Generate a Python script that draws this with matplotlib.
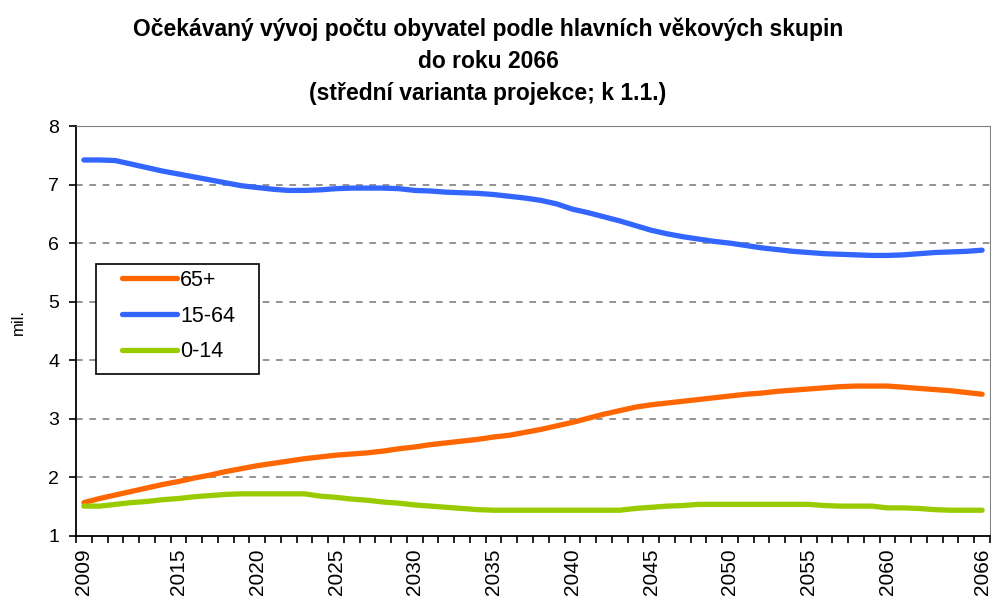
import matplotlib
matplotlib.use("Agg")
import matplotlib.pyplot as plt
from matplotlib.patches import Rectangle
import numpy as np

years = list(range(2009, 2067))
tick_years = [2009, 2015, 2020, 2025, 2030, 2035, 2040, 2045, 2050, 2055, 2060, 2066]

age_65plus = [1.57, 1.64, 1.70, 1.76, 1.82, 1.88, 1.93, 1.99, 2.04, 2.10,
              2.15, 2.20, 2.24, 2.28, 2.32, 2.35, 2.38, 2.40, 2.42, 2.45,
              2.49, 2.52, 2.56, 2.59, 2.62, 2.65, 2.69, 2.72, 2.77, 2.82,
              2.88, 2.94, 3.01, 3.08, 3.14, 3.20, 3.24, 3.27, 3.30, 3.33,
              3.36, 3.39, 3.42, 3.44, 3.47, 3.49, 3.51, 3.53, 3.55, 3.56,
              3.56, 3.56, 3.54, 3.52, 3.50, 3.48, 3.45, 3.42]
age_15_64 = [7.42, 7.42, 7.41, 7.35, 7.29, 7.23, 7.18, 7.13, 7.08, 7.03,
             6.98, 6.95, 6.92, 6.90, 6.90, 6.91, 6.93, 6.94, 6.94, 6.94,
             6.93, 6.90, 6.89, 6.87, 6.86, 6.85, 6.83, 6.80, 6.77, 6.73,
             6.67, 6.58, 6.52, 6.45, 6.38, 6.30, 6.22, 6.16, 6.11, 6.07,
             6.03, 6.00, 5.96, 5.92, 5.89, 5.86, 5.84, 5.82, 5.81, 5.80,
             5.79, 5.79, 5.80, 5.82, 5.84, 5.85, 5.86, 5.88]
age_0_14 = [1.51, 1.51, 1.54, 1.57, 1.59, 1.62, 1.64, 1.67, 1.69, 1.71,
            1.72, 1.72, 1.72, 1.72, 1.72, 1.68, 1.66, 1.63, 1.61, 1.58,
            1.56, 1.53, 1.51, 1.49, 1.47, 1.45, 1.44, 1.44, 1.44, 1.44,
            1.44, 1.44, 1.44, 1.44, 1.44, 1.47, 1.49, 1.51, 1.52, 1.54,
            1.54, 1.54, 1.54, 1.54, 1.54, 1.54, 1.54, 1.52, 1.51, 1.51,
            1.51, 1.48, 1.48, 1.47, 1.45, 1.44, 1.44, 1.44]

labels = ["65+", "15-64", "0-14"]
colors = ["#FF6600", "#3366FF", "#99CC00"]

plt.rcParams['font.family'] = ['Liberation Sans', 'DejaVu Sans']

W, H = 991, 596
fig = plt.figure(figsize=(W/100, H/100), dpi=100)
ax = fig.add_axes([76/W, 1-536/H, (990-76)/W, (536-126)/H])

ax.set_xlim(2008.5, 2066.5)
ax.set_ylim(1, 8)

for vals, lab, col in zip([age_65plus, age_15_64, age_0_14], labels, colors):
    ax.plot(years, vals, color=col, lw=3.8, label=lab, solid_capstyle='round', zorder=3)

ax.set_yticks(range(1, 9))
ax.set_yticklabels([str(v) for v in range(1, 9)], fontsize=14)
ax.set_xticks(tick_years)
ax.set_xticklabels([str(y) for y in tick_years], rotation=90, fontsize=15, va='top')
ax.tick_params(axis='x', which='major', length=0, pad=9)
ax.set_xticks(np.arange(2008.5, 2067, 1.0), minor=True)
ax.tick_params(axis='x', which='minor', direction='out', length=5, width=1.2, color='black')
ax.tick_params(axis='y', direction='out', length=5, width=1.2, color='black', pad=7)

for y in range(2, 8):
    ax.axhline(y, color='#808080', lw=1.2, ls=(0, (4, 4)), zorder=1)

ax.spines['left'].set_color('black')
ax.spines['bottom'].set_color('black')
ax.spines['left'].set_linewidth(1.3)
ax.spines['bottom'].set_linewidth(1.3)
ax.spines['top'].set_color('#808080')
ax.spines['right'].set_color('#808080')

fig.text(18/W, 1-322/H, "mil.", rotation=90, ha='center', va='center', fontsize=12)

# legend box
rect = Rectangle((96/W, 1-374/H), 163/W, 110/H, transform=fig.transFigure,
                 facecolor='white', edgecolor='black', lw=1.2, zorder=4)
ax.add_artist(rect)
leg = ax.legend(loc='center left', bbox_to_anchor=(122/W, 1-316/H),
                bbox_transform=fig.transFigure, frameon=False, fontsize=15.5,
                handlelength=2.55, handletextpad=0.15, labelspacing=0.68,
                borderpad=0, borderaxespad=0)
leg.set_zorder(5)

title_lines = ["Očekávaný vývoj počtu obyvatel podle hlavních věkových skupin",
               "do roku 2066",
               "(střední varianta projekce; k 1.1.)"]
for line, yp in zip(title_lines, [29, 61, 94]):
    fig.text(488/W, 1-yp/H, line, ha='center', va='center', fontsize=16.5, fontweight='bold')

fig.savefig("out.png", dpi=100)
